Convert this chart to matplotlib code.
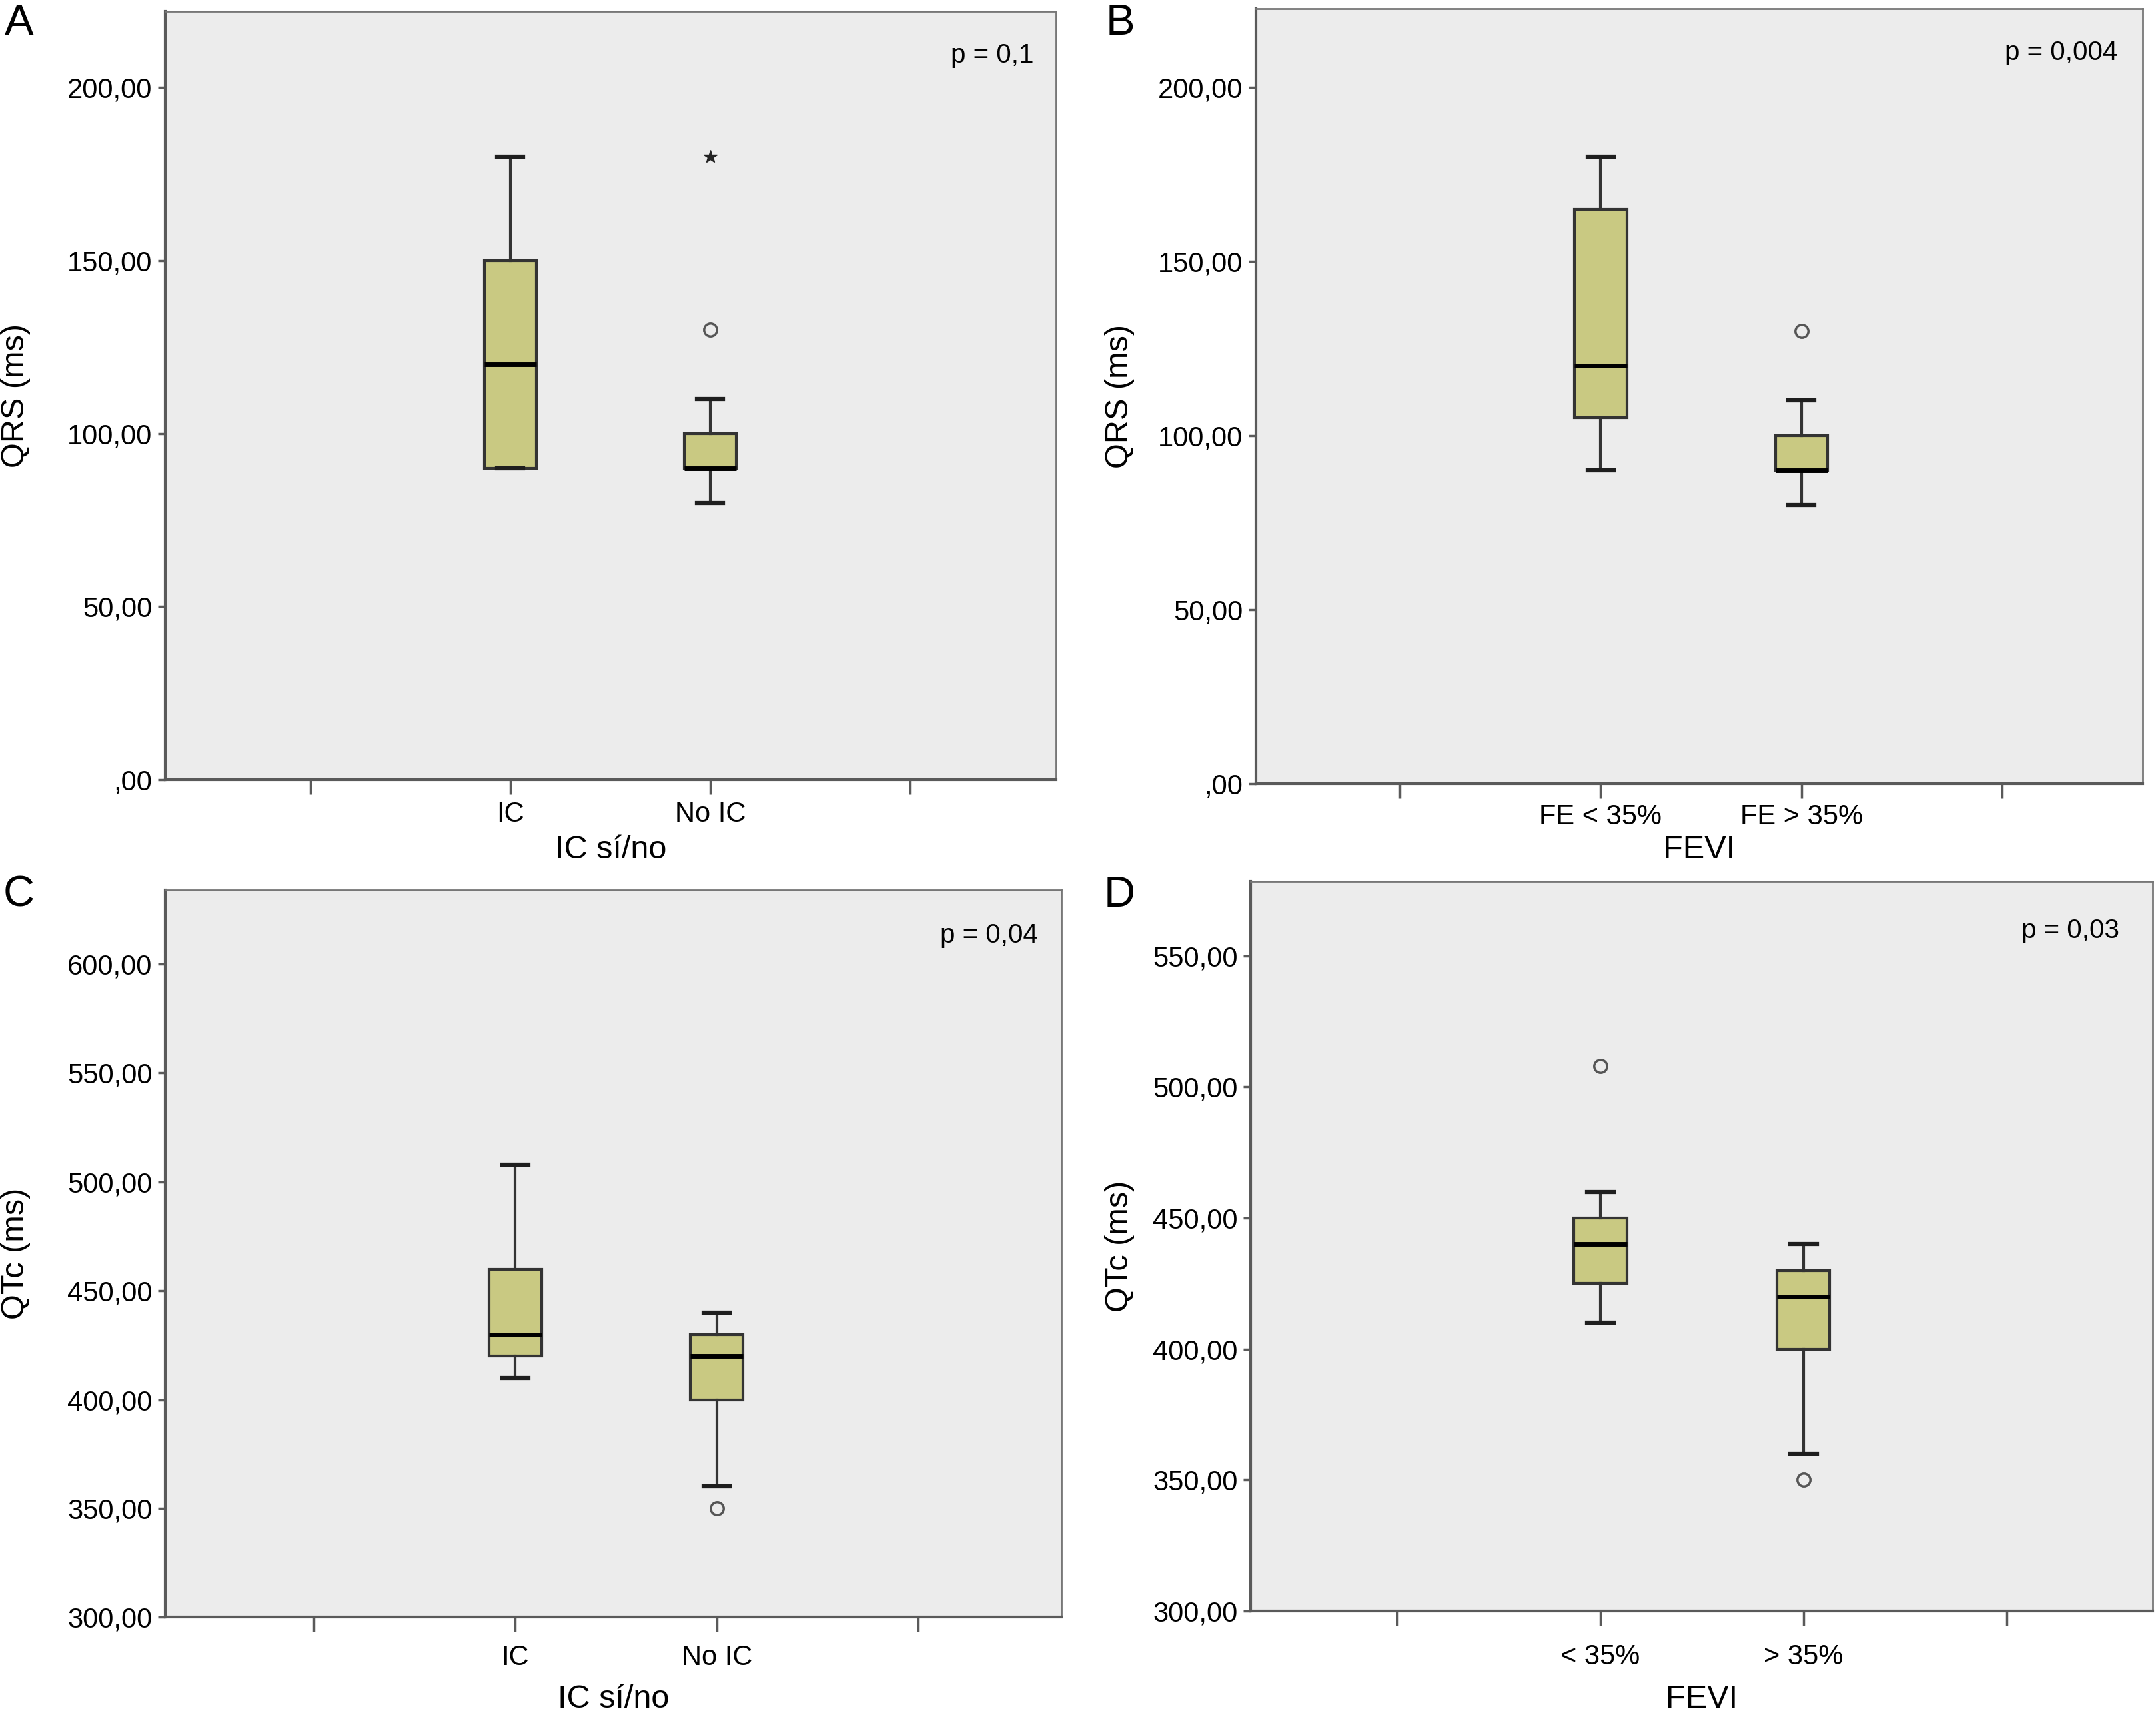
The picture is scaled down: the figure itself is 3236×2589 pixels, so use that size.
import numpy as np
import matplotlib
matplotlib.use("Agg")
import matplotlib.pyplot as plt

plt.rcParams['font.family'] = ['Liberation Sans', 'DejaVu Sans']

# data (box plot summaries)
groups_ic = ['IC', 'No IC']
groups_fe = ['FE < 35%', 'FE > 35%']
groups_lt = ['< 35%', '> 35%']

# A: QRS by IC
qrs_ic_low = [90, 80]
qrs_ic_q1 = [90, 90]
qrs_ic_med = [120, 90]
qrs_ic_q3 = [150, 100]
qrs_ic_high = [180, 110]
qrs_ic_circles = [[], [130]]
qrs_ic_stars = [[], [180]]

# B: QRS by FEVI
qrs_fe_low = [90, 80]
qrs_fe_q1 = [105, 90]
qrs_fe_med = [120, 90]
qrs_fe_q3 = [165, 100]
qrs_fe_high = [180, 110]
qrs_fe_circles = [[], [130]]

# C: QTc by IC
qtc_ic_low = [410, 360]
qtc_ic_q1 = [420, 400]
qtc_ic_med = [430, 420]
qtc_ic_q3 = [460, 430]
qtc_ic_high = [508, 440]
qtc_ic_circles = [[], [350]]

# D: QTc by FEVI
qtc_fe_low = [410, 360]
qtc_fe_q1 = [425, 400]
qtc_fe_med = [440, 420]
qtc_fe_q3 = [450, 430]
qtc_fe_high = [460, 440]
qtc_fe_circles = [[508], [350]]

BG = '#ececec'
FILL = '#c9c982'
FRAME = '#5a5a5a'


def make_stats(low, q1, med, q3, high, fliers):
    stats = []
    for i in range(len(med)):
        stats.append(dict(whislo=low[i], q1=q1[i], med=med[i], q3=q3[i],
                          whishi=high[i], fliers=fliers[i]))
    return stats


def fmt(v):
    s = ('%.2f' % v).replace('.', ',')
    if v == 0:
        s = s.lstrip('0')
    return s


def draw_panel(fig, rect, stats, labels, yticks, ylim, xlim, ylabel, xlabel,
               ptext, ptext_pos, ylab_x, xlab_y, tick_pad, letter, letter_pos, stars=None):
    ax = fig.add_axes(rect)
    ax.set_facecolor(BG)
    ax.bxp(stats, positions=[1, 2], widths=0.26, patch_artist=True,
           boxprops=dict(facecolor=FILL, edgecolor='#333333', linewidth=3),
           medianprops=dict(color='black', linewidth=5),
           whiskerprops=dict(color='#333333', linewidth=3),
           capprops=dict(color='#1e1e1e', linewidth=4.5),
           capwidths=0.13,
           flierprops=dict(marker='o', markersize=14, markerfacecolor='none',
                           markeredgecolor='#555555', markeredgewidth=2.5))
    if stars is not None:
        for i, s in enumerate(stars):
            if s:
                ax.plot([i + 1] * len(s), s, linestyle='none', marker='*',
                        markersize=15, color='#222222')
    ax.set_xlim(*xlim)
    ax.set_ylim(*ylim)
    ax.set_xticks([0, 1, 2, 3])
    ax.set_xticklabels([''] + labels + [''])
    ax.set_yticks(yticks)
    ax.set_yticklabels([fmt(v) for v in yticks])
    for sp in ['top', 'right']:
        ax.spines[sp].set_color('#777777')
        ax.spines[sp].set_linewidth(2)
    for sp in ['left', 'bottom']:
        ax.spines[sp].set_color(FRAME)
        ax.spines[sp].set_linewidth(3)
    ax.tick_params(axis='x', direction='out', length=16, width=2.5, color=FRAME,
                   labelsize=30, pad=tick_pad)
    ax.tick_params(axis='y', direction='out', length=8, width=2.5, color=FRAME,
                   labelsize=30, pad=6)
    ax.set_ylabel(ylabel, fontsize=35)
    ax.yaxis.set_label_coords(ylab_x, 0.5)
    ax.set_xlabel(xlabel, fontsize=35)
    ax.xaxis.set_label_coords(0.5, xlab_y)
    ax.text(ptext_pos[0], ptext_pos[1], ptext, transform=ax.transAxes,
            ha='right', va='center', fontsize=29)
    fig.text(letter_pos[0], letter_pos[1], letter, fontsize=47, ha='left', va='top')
    return ax


fig = plt.figure(figsize=(32.36, 25.89), dpi=100)

draw_panel(fig, [0.0766, 0.5481, 0.4132, 0.4453],
           make_stats(qrs_ic_low, qrs_ic_q1, qrs_ic_med, qrs_ic_q3, qrs_ic_high, qrs_ic_circles),
           groups_ic, [0, 50, 100, 150, 200], (0, 222), (-0.727, 3.73),
           'QRS (ms)', 'IC sí/no', 'p = 0,1', (0.975, 0.943), -0.151, -0.072, 7,
           'A', (0.002, 0.998), stars=qrs_ic_stars)

draw_panel(fig, [0.5825, 0.5456, 0.4113, 0.4494],
           make_stats(qrs_fe_low, qrs_fe_q1, qrs_fe_med, qrs_fe_q3, qrs_fe_high, qrs_fe_circles),
           groups_fe, [0, 50, 100, 150, 200], (0, 222.5), (-0.717, 3.70),
           'QRS (ms)', 'FEVI', 'p = 0,004', (0.972, 0.943), -0.137, -0.066, 5,
           'B', (0.513, 0.998))

draw_panel(fig, [0.0766, 0.0624, 0.4157, 0.4216],
           make_stats(qtc_ic_low, qtc_ic_q1, qtc_ic_med, qtc_ic_q3, qtc_ic_high, qtc_ic_circles),
           groups_ic, [300, 350, 400, 450, 500, 550, 600], (300, 634), (-0.737, 3.71),
           'QTc (ms)', 'IC sí/no', 'p = 0,04', (0.974, 0.938), -0.150, -0.092, 13,
           'C', (0.0015, 0.4925))

draw_panel(fig, [0.5800, 0.0660, 0.4185, 0.4230],
           make_stats(qtc_fe_low, qtc_fe_q1, qtc_fe_med, qtc_fe_q3, qtc_fe_high, qtc_fe_circles),
           groups_lt, [300, 350, 400, 450, 500, 550], (300, 578.4), (-0.722, 3.72),
           'QTc (ms)', 'FEVI', 'p = 0,03', (0.963, 0.932), -0.1285, -0.100, 19,
           'D', (0.512, 0.4925))

fig.savefig('out.png', dpi=100, facecolor='white')
